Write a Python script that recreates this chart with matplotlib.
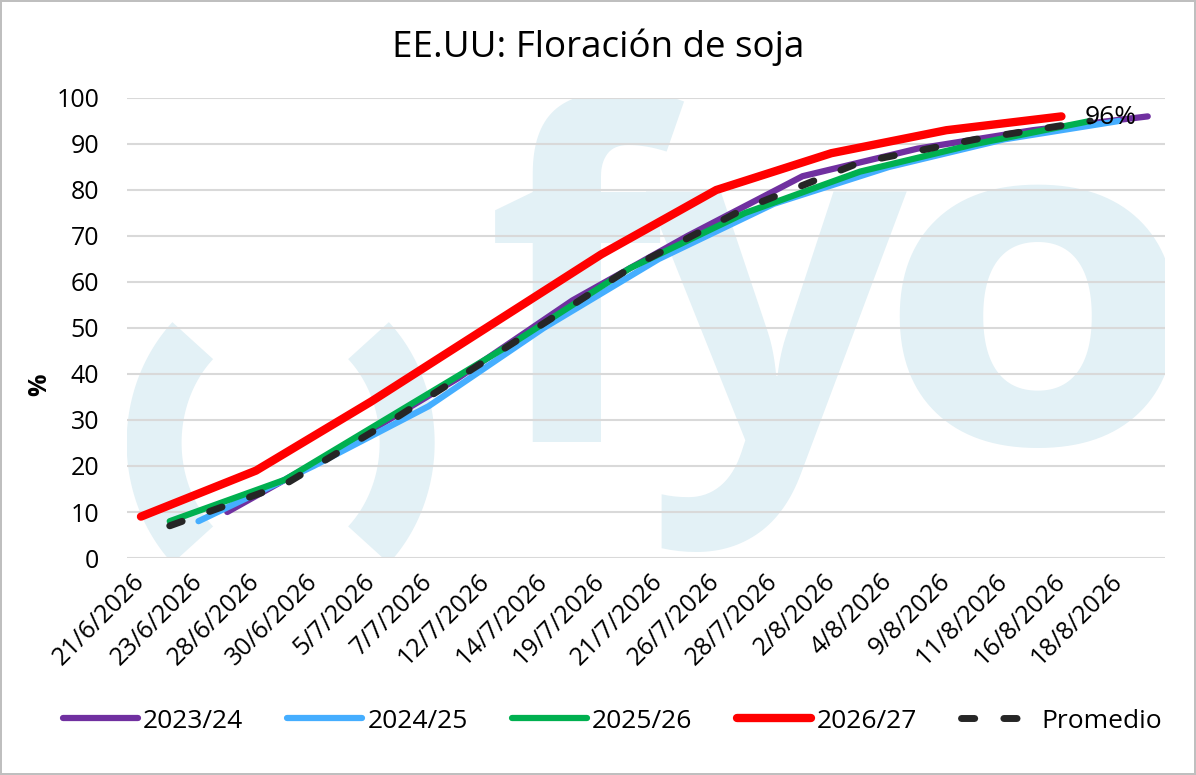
import matplotlib
matplotlib.use("Agg")
import matplotlib.pyplot as plt
import numpy as np

# ---- data ----
tick_labels = ["21/6/2026", "23/6/2026", "28/6/2026", "30/6/2026", "5/7/2026", "7/7/2026",
               "12/7/2026", "14/7/2026", "19/7/2026", "21/7/2026", "26/7/2026", "28/7/2026",
               "2/8/2026", "4/8/2026", "9/8/2026", "11/8/2026", "16/8/2026", "18/8/2026"]
# x values in days from 21/6 (weekly reports, each campaign mapped to its own weekday)
days_2324 = [5.25, 12.25, 19.25, 26.25, 33.25, 40.25, 47.25, 54.25, 61.25]
days_2425 = [3.5, 10.5, 17.5, 24.5, 31.5, 38.5, 45.5, 52.5, 59.5]
days_2526 = [1.75, 8.75, 15.75, 22.75, 29.75, 36.75, 43.75, 50.75, 57.75]
days_2627 = [0, 7, 14, 21, 28, 35, 42, 49, 56]
days_prom = [1.75, 8.75, 15.75, 22.75, 29.75, 36.75, 43.75, 50.75, 57.75]

v_2324 = [10, 24, 39, 56, 70, 83, 89, 93, 96]
v_2425 = [8, 20, 33, 50, 65, 77, 85, 91, 95]
v_2526 = [8, 17, 32, 47, 63, 75, 84, 90, 95]
v_2627 = [9, 19, 34, 50, 66, 80, 88, 93, 96]
v_prom = [7, 16, 31, 47, 63, 76, 86, 91, 95]

tick_days = [3.5 * i for i in range(len(tick_labels))]

title = "EE.UU: Floración de soja"
font = ["Open Sans", "DejaVu Sans"]
plt.rcParams['font.family'] = font

fig = plt.figure(figsize=(11.96, 7.75), dpi=100)
fig.patch.set_facecolor("white")
fig.patch.set_edgecolor("#BFBFBF")
fig.patch.set_linewidth(1.5)

ax = fig.add_axes([127/1196, 1-558/775, (1165-127)/1196, (558-98)/775])
ax.set_facecolor("none")

# watermark "()fyo"
wm = "#E3F1F6"
cx, cy, a, b = 0.148, 0.2505, 0.1219, 0.3087
for t0, t1 in [(134, 226), (-46, 46)]:
    t = np.radians(np.linspace(t0, t1, 100))
    ax.plot(cx + a*np.cos(t), cy + b*np.sin(t), transform=ax.transAxes, color=wm,
            lw=39.6, solid_capstyle='butt', zorder=0, clip_on=True)
for ch, xf, fam in zip("fyo", [0.4316, 0.6243, 0.8767],
                       ["Open Sans", "Open Sans", "DejaVu Sans"]):
    ax.text(xf, 0.252, ch, transform=ax.transAxes, fontsize=330, fontweight='bold',
            family=fam, color=wm, ha='center', va='baseline', zorder=0, clip_on=True)

series = [
    ("2023/24", days_2324, v_2324, "#7030A0", 4.5, None),
    ("2024/25", days_2425, v_2425, "#45AEFF", 4.5, None),
    ("2025/26", days_2526, v_2526, "#00B050", 4.5, None),
    ("2026/27", days_2627, v_2627, "#FF0000", 6.0, None),
    ("Promedio", days_prom, v_prom, "#262626", 5.0, (1.9, 4.2)),
]
for i, (lab, xs, ys, c, lw, dash) in enumerate(series):
    kw = dict(color=c, lw=lw, solid_capstyle='round', solid_joinstyle='round', label=lab, zorder=3 + i)
    if dash:
        kw.update(dashes=dash, dash_capstyle='round')
    ax.plot(xs, ys, **kw)

ax.annotate("96%", xy=(days_2627[-1], v_2627[-1]), xytext=(17, -1), textcoords='offset points',
            fontsize=19, ha='left', va='center', color='black', zorder=10)

ax.set_xlim(-0.85, 62.3)
ax.set_ylim(0, 100)
ax.set_yticks(range(0, 101, 10))
ax.yaxis.grid(True, color="#D9D9D9", lw=1.5)
ax.set_axisbelow(True)
for s in ax.spines.values():
    s.set_visible(False)
ax.tick_params(axis='both', length=0, labelsize=18, labelcolor='black')
ax.tick_params(axis='y', pad=20)
ax.set_xticks(tick_days)
ax.set_xticklabels(tick_labels, rotation=45, ha='right', va='center', rotation_mode='anchor')
ax.tick_params(axis='x', pad=14)

ax.set_ylabel("%", fontsize=18, fontweight='bold')
ax.yaxis.set_label_coords(-0.072, 0.376)

fig.text(598/1196, 1-47/775, title, fontsize=26.5, ha='center', va='center')

fig.legend(loc='center', bbox_to_anchor=(0.512, 1-721/775), ncol=5, frameon=False,
           fontsize=19, handlelength=2.84, handletextpad=0.2, columnspacing=1.67)

fig.savefig("out.png", dpi=100)
